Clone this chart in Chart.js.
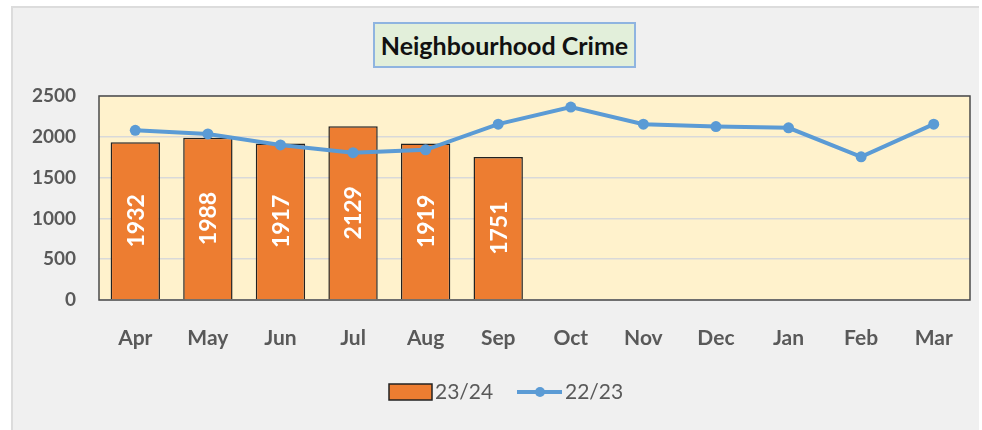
<!DOCTYPE html>
<html>
<head>
<meta charset="utf-8">
<script src="https://cdn.jsdelivr.net/npm/chart.js@4"></script>
<style>
  html, body { margin: 0; padding: 0; background: #ffffff; }
  #frame {
    position: absolute; left: 11px; top: 6px; width: 966px; height: 423px;
    background: #f0f0f0; border: 2px solid #dcdcdc; border-right: none; border-bottom: none;
  }
  #title {
    position: absolute; left: 373px; top: 22px; width: 259px; height: 42px;
    background: #e2efda; border: 2px solid #8fb4e0;
    font-family: Lato, sans-serif; font-weight: bold; font-size: 25px; color: #111;
    text-align: center; line-height: 42px; white-space: nowrap;
  }
  #wrap { position: absolute; left: 0; top: 0; width: 982px; height: 430px; }
</style>
</head>
<body>
<div id="frame"></div>
<div id="title">Neighbourhood Crime</div>
<div id="wrap"><canvas id="myChart" width="982" height="430"></canvas></div>
<script>
const months = ["Apr", "May", "Jun", "Jul", "Aug", "Sep", "Oct", "Nov", "Dec", "Jan", "Feb", "Mar"];
const crime2324 = [1932, 1988, 1917, 2129, 1919, 1751];
const crime2223 = [2080, 2035, 1900, 1805, 1840, 2155, 2365, 2155, 2125, 2110, 1755, 2155];
const yTicks = [0, 500, 1000, 1500, 2000, 2500];

// plot area fill and frame
const areaPlugin = {
  id: "areaPlugin",
  beforeDraw: function(chart) {
    const a = chart.chartArea, ctx = chart.ctx;
    ctx.save();
    ctx.fillStyle = "#fff2cc";
    ctx.fillRect(a.left, a.top, a.right - a.left, a.bottom - a.top);
    ctx.restore();
  },
  beforeDatasetsDraw: function(chart) {
    const a = chart.chartArea, ctx = chart.ctx;
    ctx.save();
    ctx.strokeStyle = "#4a4a4a";
    ctx.lineWidth = 1.5;
    ctx.strokeRect(a.left, a.top, a.right - a.left, a.bottom - a.top);
    ctx.restore();
  }
};

// vertical value labels inside the bars
const barLabels = {
  id: "barLabels",
  afterDatasetsDraw: function(chart) {
    const ctx = chart.ctx;
    const meta = chart.getDatasetMeta(0);
    ctx.save();
    ctx.fillStyle = "#ffffff";
    ctx.font = "bold 23px Lato";
    ctx.textAlign = "center";
    ctx.textBaseline = "middle";
    meta.data.forEach(function(bar, i) {
      const cy = (bar.y + bar.base) / 2;
      ctx.save();
      ctx.translate(bar.x, cy);
      ctx.rotate(-Math.PI / 2);
      ctx.fillText(String(crime2324[i]), 0, 1);
      ctx.restore();
    });
    ctx.restore();
  }
};

// legend drawn under the axis
const legendPlugin = {
  id: "legendPlugin",
  afterDraw: function(chart) {
    const ctx = chart.ctx;
    const ds = chart.data.datasets;
    const y = 392;
    ctx.save();
    ctx.font = "21px Lato";
    ctx.textBaseline = "middle";
    // bar swatch
    ctx.fillStyle = "#ed7d31";
    ctx.fillRect(389, 384, 43, 16);
    ctx.strokeStyle = "#222";
    ctx.lineWidth = 1.5;
    ctx.strokeRect(389, 384, 43, 16);
    ctx.fillStyle = "#595959";
    ctx.fillText(ds[0].label, 435, y);
    // line swatch
    ctx.strokeStyle = "#5b9bd5";
    ctx.lineWidth = 4;
    ctx.beginPath();
    ctx.moveTo(517, y);
    ctx.lineTo(562, y);
    ctx.stroke();
    ctx.fillStyle = "#5b9bd5";
    ctx.beginPath();
    ctx.arc(540, y, 5, 0, Math.PI * 2);
    ctx.fill();
    ctx.fillStyle = "#595959";
    ctx.fillText(ds[1].label, 565, y);
    ctx.restore();
  }
};

const config = {
  type: "bar",
  data: {
    labels: months,
    datasets: [
      {
        type: "bar",
        label: "23/24",
        data: crime2324,
        backgroundColor: "#ed7d31",
        borderColor: "#222222",
        borderWidth: 1.5,
        borderSkipped: "bottom",
        categoryPercentage: 1,
        barPercentage: 0.68,
        order: 1
      },
      {
        type: "line",
        label: "22/23",
        data: crime2223,
        borderColor: "#5b9bd5",
        backgroundColor: "#5b9bd5",
        borderWidth: 4,
        pointRadius: 5.5,
        pointBackgroundColor: "#5b9bd5",
        pointBorderWidth: 0,
        tension: 0,
        fill: false,
        order: 0
      }
    ]
  },
  options: {
    responsive: false,
    animation: false,
    layout: {padding: {left: 0, top: 96, right: 12, bottom: 0}},
    plugins: {
      legend: {display: false},
      tooltip: {enabled: false},
      title: {display: false}
    },
    scales: {
      x: {
        grid: {display: false, drawTicks: false},
        border: {display: false},
        ticks: {
          color: "#595959",
          font: {family: "Lato", size: 21, weight: "bold"},
          padding: 26,
          maxRotation: 0
        },
        afterFit: function(scale) { scale.height = 130; }
      },
      y: {
        min: 0,
        max: 2500,
        afterBuildTicks: function(scale) {
          scale.ticks = yTicks.map(function(v) { return {value: v}; });
        },
        grid: {color: "#d9d9d9", lineWidth: 1.5, drawTicks: false},
        border: {display: false},
        ticks: {
          color: "#595959",
          font: {family: "Lato", size: 19, weight: "bold"},
          padding: 23,
          callback: function(value) { return String(value); }
        },
        afterFit: function(scale) { scale.width = 99; }
      }
    }
  },
  plugins: [areaPlugin, barLabels, legendPlugin]
};

var myChart = new Chart(document.getElementById("myChart"), config);
</script>
</body>
</html>
